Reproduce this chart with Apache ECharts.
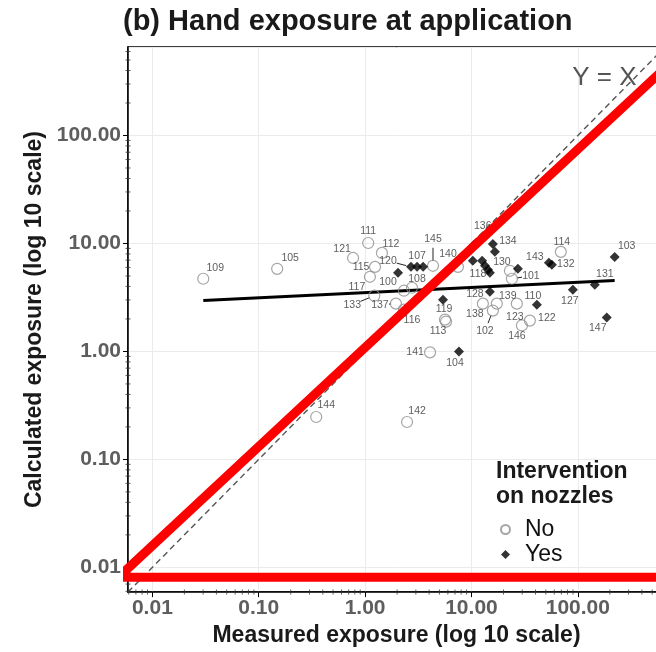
<!DOCTYPE html>
<html><head><meta charset="utf-8">
<script src="https://cdn.jsdelivr.net/npm/echarts@6/dist/echarts.min.js"></script>
<style>html,body{margin:0;padding:0;background:#fff;overflow:hidden;width:656px;height:652px}#c{width:665px;height:652px}</style>
</head><body><div id="c"></div>
<script>
// ---------- data ----------
const titleText = '(b) Hand exposure at application';
const xName = 'Measured exposure (log 10 scale)';
const yName = 'Calculated exposure (log 10 scale)';
const legendTitle = 'Intervention\non nozzles';
const groupNames = ['No', 'Yes'];

// open circles: no intervention on nozzles
const noIds = ['109','105','111','121','112','115','117','145','108','100','133','137','116','119','113','141','144','142','140','114','122','123','139','138','102','146','130','101'];
const noX   = [0.0301,0.149,1.07,0.771,1.44,1.24,1.11,4.35,2.76,2.32,1.22,1.95,2.32,5.64,5.77,4.08,0.347,2.48,7.47,69.2,35.4,26.7,17.3,12.8,15.9,29.8,23.0,24.0];
const noY   = [4.71,5.82,10.1,7.34,8.17,6.07,4.91,6.21,3.89,3.65,3.28,2.77,2.44,1.97,1.89,0.98,0.247,0.222,6.07,8.36,1.93,2.77,2.77,2.77,2.39,1.74,5.58,4.71];

// filled diamonds: intervention on nozzles
const yesIds = ['103','131','127','110','147','143','132','104','128','120','107','','','','136','134','','','','118','','',''];
const yesX   = [222,144.5,89.8,41.2,187,53.4,57.0,7.63,14.9,2.70,3.08,3.51,2.04,5.40,10.5,15.9,16.6,10.3,12.6,13.4,14.3,14.9,27.3];
const yesY   = [7.51,4.15,3.73,2.71,2.06,6.61,6.34,1.0,3.57,6.07,6.07,6.07,5.35,3.01,9.68,9.89,8.36,6.90,6.90,6.21,5.70,5.35,5.82];

// linear fit (log-log) end points
const fitX = [0.0301, 222];
const fitY = [2.97, 4.54];

// axis limits (both axes)
const axisMin = 0.0059, axisMax = 660;
const yxLabel = 'Y = X';

// labels drawn with a leader segment
const segmentIds = ['145','120','133','137','102','101'];

// red annotation strokes (data coordinates)
const redX = [930, 0.0048, 930];
const redY = [0.0081, 0.0081, 576];

// ---------- styling (label offsets in px) ----------
const labelOffset = {
 '109':[12,-11],'105':[13,-11],'111':[0,-12],'121':[-11,-9],'112':[9,-9],'115':[-14,0],'117':[-13,10],
 '145':[0,-27],'108':[5,-9],'100':[-16,-9],'133':[-22,9],'137':[-16,1],'116':[8,11],'119':[-1,-11],
 '113':[-8,10],'141':[-15,0],'144':[10,-12],'142':[10,-11],'140':[-10,-13],'114':[1,-10],'122':[17,-2],
 '123':[-2,13],'139':[11,-8],'138':[-8,10],'102':[-8,21],'146':[-5,11],'130':[-8,-9],'101':[19,-3],
 '103':[12,-11],'131':[10,-11],'127':[-3,11],'110':[-4,-9],'147':[-9,11],'143':[-14,-6],'132':[14,-1],
 '104':[-4,12],'128':[-15,2],'120':[-23,-6],'107':[0,-11],'136':[9,-19],'134':[15,-3],'118':[-7,8]
};

function pts(ids, xs, ys) {
  return ids.map((id, i) => ({
    value: [xs[i], ys[i]], name: id,
    label: { offset: labelOffset[id] || [8, -9] }
  }));
}

// leader segments data (point + label offset)
const segData = [];
segmentIds.forEach(id => {
  let i = noIds.indexOf(id), x, y;
  if (i >= 0) { x = noX[i]; y = noY[i]; } else { i = yesIds.indexOf(id); x = yesX[i]; y = yesY[i]; }
  const o = labelOffset[id];
  segData.push([x, y, o[0], o[1]]);
});

// log minor tick positions (axis decoration)
const minorTicks = [];
[-3,-2,-1,0,1,2].forEach(k => { for (let m = 2; m <= 9; m++) { const v = m * Math.pow(10, k); if (v >= axisMin && v <= axisMax) minorTicks.push(v); } });

const FONT = '"Liberation Sans", Arial, sans-serif';
const tickLabel = { formatter: v => v.toFixed(2), showMinLabel: false, showMaxLabel: false, fontSize: 21, fontWeight: 'bold', color: '#5e5e5e', fontFamily: FONT };

const chart = echarts.init(document.getElementById('c'), null, { renderer: 'canvas' });
chart.setOption({
  animation: false,
  backgroundColor: '#fff',
  textStyle: { fontFamily: FONT },
  title: [
    { text: titleText, left: 118, top: 2, textStyle: { fontSize: 29, fontWeight: 'bold', color: '#1a1a1a', fontFamily: FONT } },
    { text: legendTitle, left: 491, top: 454, textStyle: { fontSize: 23, fontWeight: 'bold', color: '#1a1a1a', lineHeight: 25, fontFamily: FONT } }
  ],
  legend: {
    data: groupNames, orient: 'vertical', left: 495, top: 513, itemGap: 2, itemWidth: 9, itemHeight: 9,
    textStyle: { fontSize: 23, color: '#111', fontFamily: FONT, padding: [0, 0, 0, 10] }
  },
  grid: { left: 128, right: 0, top: 47, bottom: 56, show: true, borderColor: '#000', borderWidth: 1.5 },
  xAxis: {
    type: 'log', logBase: 10, min: axisMin, max: axisMax,
    name: xName, nameLocation: 'middle', nameGap: 31,
    nameTextStyle: { fontSize: 23, fontWeight: 'bold', color: '#1a1a1a', fontFamily: FONT },
    axisLine: { lineStyle: { color: '#000', width: 1.5 } },
    axisTick: { length: 5, lineStyle: { color: '#000' } },
    axisLabel: Object.assign({ margin: 6 }, tickLabel),
    splitLine: { show: true, lineStyle: { color: '#ebebeb', width: 1 } }
  },
  yAxis: {
    type: 'log', logBase: 10, min: axisMin, max: axisMax,
    name: yName, nameLocation: 'middle', nameGap: 81,
    nameTextStyle: { fontSize: 23, fontWeight: 'bold', color: '#1a1a1a', fontFamily: FONT },
    axisLine: { lineStyle: { color: '#000', width: 1.5 } },
    axisTick: { length: 5, lineStyle: { color: '#000' } },
    axisLabel: Object.assign({ margin: 7 }, tickLabel),
    splitLine: { show: true, lineStyle: { color: '#ebebeb', width: 1 } }
  },
  series: [
    { name: 'identity', type: 'line', z: 2, symbol: 'none', silent: true,
      data: [[axisMin, axisMin], [axisMax, axisMax]],
      lineStyle: { color: '#555', width: 1.4, type: [6, 4] } },
    { name: 'fit', type: 'line', z: 3, symbol: 'none', silent: true,
      data: fitX.map((x, i) => [x, fitY[i]]),
      lineStyle: { color: '#000', width: 3 } },
    { name: 'segments', type: 'custom', z: 3, silent: true,
      renderItem: (params, api) => {
        const p = api.coord([api.value(0), api.value(1)]);
        const dx = api.value(2), dy = api.value(3);
        const len = Math.sqrt(dx * dx + dy * dy) || 1;
        const ux = dx / len, uy = dy / len;
        const a = Math.max(len - 9, 6);
        return { type: 'line', shape: { x1: p[0] + ux * a, y1: p[1] + uy * a, x2: p[0] + ux * 5, y2: p[1] + uy * 5 },
                 style: { stroke: '#222', lineWidth: 1 } };
      },
      data: segData },
    { name: 'No', type: 'scatter', z: 4, symbol: 'circle', symbolSize: 11,
      itemStyle: { color: 'rgba(255,255,255,0)', borderColor: '#8f8f8f', borderWidth: 1.2 },
      label: { show: true, position: 'inside', formatter: p => p.name, fontSize: 10.5, color: '#333', fontFamily: FONT },
      data: pts(noIds, noX, noY) },
    { name: 'Yes', type: 'scatter', z: 5, symbol: 'diamond', symbolSize: 10,
      itemStyle: { color: '#000' },
      label: { show: true, position: 'inside', formatter: p => p.name, fontSize: 10.5, color: '#333', fontFamily: FONT },
      data: pts(yesIds, yesX, yesY) },
    { name: 'yxText', type: 'scatter', z: 6, symbolSize: 0, silent: true,
      label: { show: true, position: 'inside', formatter: yxLabel, fontSize: 26, color: '#2a2a2a', fontFamily: FONT },
      data: [[178, 343]] },
    { name: 'xMinor', type: 'scatter', z: 6, symbol: 'rect', symbolSize: [1, 5], silent: true, clip: false,
      itemStyle: { color: '#333' }, data: minorTicks.map(v => [v, axisMin]) },
    { name: 'yMinor', type: 'scatter', z: 6, symbol: 'rect', symbolSize: [5, 1], silent: true, clip: false,
      itemStyle: { color: '#333' }, data: minorTicks.map(v => [axisMin, v]) },
    { name: 'annot', type: 'line', z: 20, symbol: 'none', silent: true, clip: false,
      data: redX.map((x, i) => [x, redY[i]]),
      lineStyle: { color: '#ff0000', width: 9, cap: 'round', join: 'round' } }
  ]
});
</script></body></html>
